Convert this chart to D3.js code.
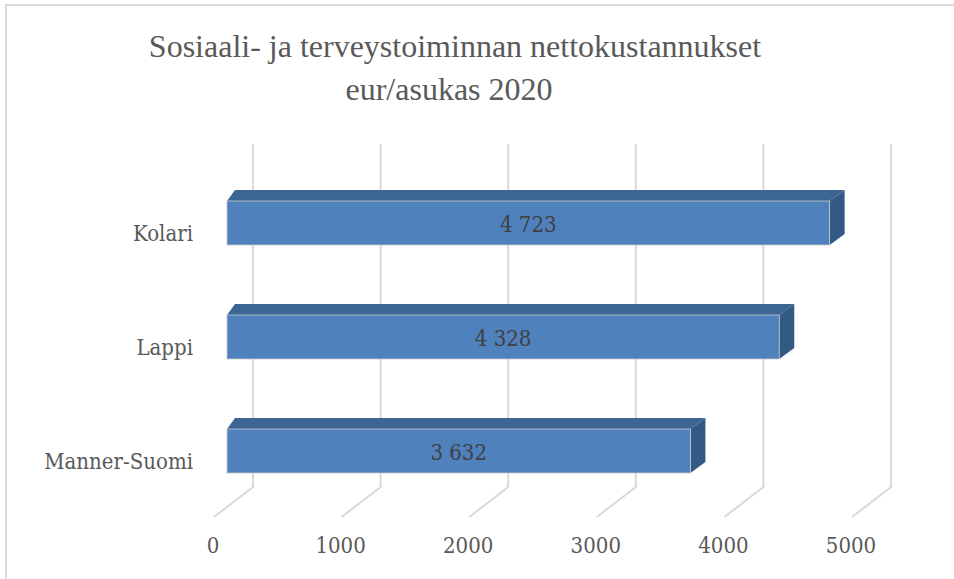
<!DOCTYPE html>
<html>
<head>
<meta charset="utf-8">
<script src="https://cdn.jsdelivr.net/npm/d3@7"></script>
<style>
  body { margin: 0; background: #fff; }
  svg { display: block; }
</style>
</head>
<body>
<div id="chart"></div>
<script>
// data
var categories = ["Kolari", "Lappi", "Manner-Suomi"];
var values = [4723, 4328, 3632];
var labels = ["4 723", "4 328", "3 632"];
var ticks = [0, 1000, 2000, 3000, 4000, 5000];
var titleLines = ["Sosiaali- ja terveystoiminnan nettokustannukset", "eur/asukas 2020"];

var width = 954, height = 579;

var svg = d3.select("#chart")
  .append("svg")
    .attr("width", width)
    .attr("height", height);

// chart border (only top/left visible in frame)
svg.append("rect")
  .attr("x", 6).attr("y", 5)
  .attr("width", 960).attr("height", 600)
  .attr("fill", "none")
  .attr("stroke", "#d9d9d9")
  .attr("stroke-width", 2);

// front plane scale, and offsets for the back wall
var x = d3.scaleLinear().domain([0, 5000]).range([214, 852]);
var depthX = 39, depthY = 30;
var wallTop = 144, wallBottom = 487;

var y = d3.scaleBand()
  .domain(categories)
  .range([162, 504])
  .paddingInner(0.6)
  .paddingOuter(0.3);

// title
svg.selectAll("text.title")
  .data(titleLines)
  .enter()
  .append("text")
    .attr("class", "title")
    .attr("x", function(d, i) { return i == 0 ? 455 : 449; })
    .attr("y", function(d, i) { return 57 + i * 43; })
    .attr("text-anchor", "middle")
    .attr("font-family", "'Liberation Serif', 'Times New Roman', serif")
    .attr("font-size", "32px")
    .attr("fill", "#595959")
    .text(function(d) { return d; });

// gridlines: back wall vertical + floor diagonal
var grid = svg.append("g");
grid.selectAll("path")
  .data(ticks)
  .enter()
  .append("path")
    .attr("d", function(d) {
      var bx = x(d) + depthX;
      return "M" + bx + "," + wallTop + "L" + bx + "," + wallBottom +
             "L" + x(d) + "," + (wallBottom + depthY);
    })
    .attr("fill", "none")
    .attr("stroke", "#d9d9d9")
    .attr("stroke-width", 2);

// tick labels
svg.selectAll("text.tick")
  .data(ticks)
  .enter()
  .append("text")
    .attr("class", "tick")
    .attr("x", function(d) { return x(d) - 1; })
    .attr("y", 553)
    .attr("text-anchor", "middle")
    .attr("font-family", "'DejaVu Serif Condensed', 'DejaVu Serif', serif")
    .attr("font-stretch", "condensed")
    .attr("font-size", "22px")
    .attr("fill", "#595959")
    .text(function(d) { return d; });

// bars (front plane sits a bit behind the floor front)
var x0 = x(0) + 13;
var barScale = d3.scaleLinear().domain([0, 5000]).range([x0, x0 + (x(5000) - x(0))]);
var bh = 44;   // front face height
var tl = 8, tr = 15, td = 11; // top depth offsets (left, right, vertical)

var bars = svg.selectAll("g.bar")
  .data(values)
  .enter()
  .append("g")
    .attr("class", "bar");

function yTop(i) { return y(categories[i]) + (y.bandwidth() - bh) / 2 + 4; }

// top face
bars.append("path")
  .attr("d", function(d, i) {
    var yt = yTop(i), x1 = barScale(d);
    return "M" + x0 + "," + yt + "L" + (x0 + tl) + "," + (yt - td) +
           "L" + (x1 + tr) + "," + (yt - td) + "L" + x1 + "," + yt + "Z";
  })
  .attr("fill", "#3d6591");

// side face
bars.append("path")
  .attr("d", function(d, i) {
    var yt = yTop(i), x1 = barScale(d);
    return "M" + x1 + "," + yt + "L" + (x1 + tr) + "," + (yt - td) +
           "L" + (x1 + tr) + "," + (yt - td + bh) + "L" + x1 + "," + (yt + bh) + "Z";
  })
  .attr("fill", "#335a85");

// front face
bars.append("rect")
  .attr("x", x0)
  .attr("y", function(d, i) { return yTop(i); })
  .attr("width", function(d) { return barScale(d) - x0; })
  .attr("height", bh)
  .attr("fill", "#4f81bd")
  .attr("stroke", "#c8c8c8")
  .attr("stroke-width", 0.8);

// value labels
bars.append("text")
  .attr("x", function(d) { return (x0 + barScale(d)) / 2; })
  .attr("y", function(d, i) { return yTop(i) + 31; })
  .attr("text-anchor", "middle")
  .attr("font-family", "'DejaVu Serif Condensed', 'DejaVu Serif', serif")
  .attr("font-stretch", "condensed")
  .attr("font-size", "22px")
  .attr("fill", "#404040")
  .text(function(d, i) { return labels[i]; });

// category labels
svg.selectAll("text.cat")
  .data(categories)
  .enter()
  .append("text")
    .attr("class", "cat")
    .attr("x", 193)
    .attr("y", function(d, i) { return yTop(i) + 40; })
    .attr("text-anchor", "end")
    .attr("font-family", "'DejaVu Serif Condensed', 'DejaVu Serif', serif")
    .attr("font-stretch", "condensed")
    .attr("font-size", "22px")
    .attr("fill", "#595959")
    .text(function(d) { return d; });
</script>
</body>
</html>
